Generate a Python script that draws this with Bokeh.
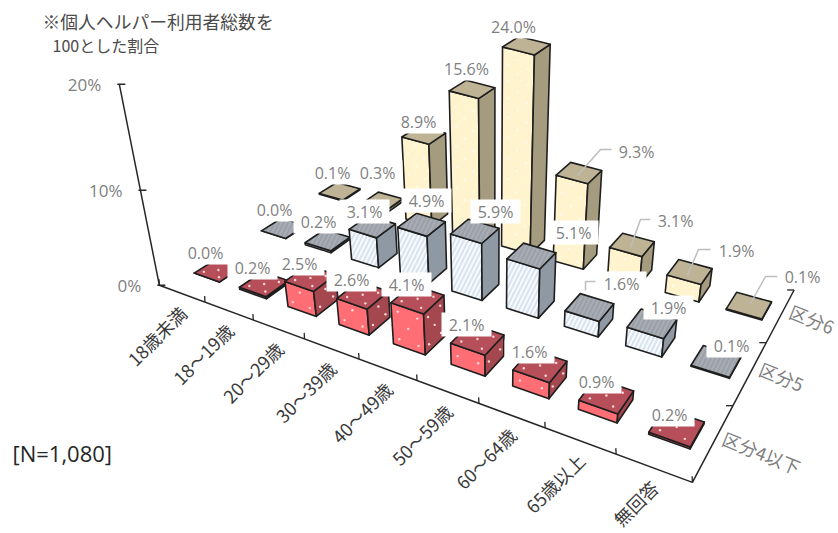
import numpy as np
from bokeh.plotting import figure
from bokeh.models import ColumnDataSource
from bokeh.core.properties import value
from bokeh.embed import file_html
from bokeh.resources import INLINE

categories = ["18歳未満", "18～19歳", "20～29歳", "30～39歳", "40～49歳", "50～59歳", "60～64歳", "65歳以上", "無回答"]
series_names = ["区分4以下", "区分5", "区分6"]
kubun4 = [0.0, 0.2, 2.5, 2.6, 4.1, 2.1, 1.6, 0.9, 0.2]
kubun5 = [0.0, 0.2, 3.1, 4.9, 5.9, 5.1, 1.6, 1.9, 0.1]
kubun6 = [0.1, 0.3, 8.9, 15.6, 24.0, 9.3, 3.1, 1.9, 0.1]
z_ticks = [0, 10, 20]
z_tick_labels = ["0%", "10%", "20%"]
note_lines = ["※個人ヘルパー利用者総数を", "100とした割合"]
n_label = "[N=1,080]"

# ---- camera calibration (image pixels) ----
calib = [(-.5,-.5,160,283),(.5,-.5,205,302),(1.5,-.5,253,320),(2.5,-.5,303,340),(3.5,-.5,358,360),
         (4.5,-.5,417,382),(5.5,-.5,478,405),(6.5,-.5,545,428),(7.5,-.5,615,457),(8.5,-.5,692,480),
         (8.5,.5,732,403),(8.5,1.5,767,338),(8.5,2.5,793,291),
         (0,0,212,273),(0,1,280,229),(0,2,342,191),(8,0,677,430),(8,1,715,363),(8,2,750,302)]
calib = calib + calib[:1]*4 + calib[9:10]*2 + calib[12:13]*2
A, b = [], []
for u, v, x, y in calib:
    A.append([u, v, 1, 0, 0, 0, -u*x, -v*x]); b.append(x)
    A.append([0, 0, 0, u, v, 1, -u*y, -v*y]); b.append(y)
h = np.linalg.lstsq(np.array(A, float), np.array(b, float), rcond=None)[0]
VP = (493.0, 1963.0)

def ground(u, v):
    w = h[6]*u + h[7]*v + 1
    return (h[0]*u + h[1]*v + h[2])/w, (h[3]*u + h[4]*v + h[5])/w

def proj(u, v, z=0.0):
    """Floor point raised by z percent; the rise leans away from the lower vanishing point
    and is foreshortened with depth and with height."""
    gx, gy = ground(u, v)
    s = 10.0 - 0.425*max(v, 0.0)
    e = z*(1 - 0.1*(z/24.0)**4)
    t = e*s/(VP[1]-gy)
    return gx - t*(VP[0]-gx), gy - t*(VP[1]-gy)

def proj_axis(z):
    gx, gy = ground(-.5, -.5)
    t = z/(187.0-z)
    return gx - t*(VP[0]-gx), gy - t*(VP[1]-gy)

BAR_W, BAR_D = 0.56, 0.33
styles = [
    dict(front="#FF6E74", side="#A5474F", top="#B64F59", dot="#FFD9DA"),
    dict(front="#F8FAFD", side="#8F99A4", top="#A8ADB4", hf="#D8E4EF", ht="#9BA0A8"),
    dict(front="#FFF4CE", side="#A59B7F", top="#BEB495", dot="#FFFBEC"),
]
rows = [kubun4, kubun5, kubun6]

p = figure(width=838, height=533, x_range=(0, 838), y_range=(533, 0), output_backend="svg",
           toolbar_location=None, min_border=0, outline_line_color=None)
p.axis.visible = False
p.grid.visible = False
p.background_fill_color = "white"
p.border_fill_color = "white"

AX = "#262626"
zline = [proj_axis(z) for z in [0, 5, 10, 15, 20]]
p.line([q[0] for q in zline], [q[1] for q in zline], line_color=AX, line_width=1.5)
fl = [ground(-.5, -.5), ground(8.5, -.5), ground(8.5, 2.5)]
p.line([q[0] for q in fl], [q[1] for q in fl], line_color=AX, line_width=1.5)
for z, lab in zip(z_ticks, z_tick_labels):
    x, y = proj_axis(z)
    p.segment([x-2], [y], [x+6], [y], line_color=AX, line_width=1.5)
    p.text([x-18], [y], text=[lab], text_align="right", text_baseline="middle", text_color="#7F7F7F",
           text_font=value("Open Sans"), text_font_size="17px")
for i in range(10):
    x, y = ground(i-.5, -.5)
    p.segment([x], [y], [x-0.3], [y-6], line_color=AX, line_width=1.3)
for j in range(3):
    x, y = ground(8.5, j+.5)
    p.segment([x], [y], [x-7], [y], line_color=AX, line_width=1.3)

# bars, far row first, left to right
for j in (2, 1, 0):
    st = styles[j]
    for i, val in enumerate(rows[j]):
        u0, u1 = i-BAR_W/2, i+BAR_W/2
        v0, v1 = j-BAR_D/2, j+BAR_D/2
        a, b_, c = proj(u0, v0), proj(u1, v0), proj(u1, v1)
        at, bt, ct, dt = proj(u0, v0, val), proj(u1, v0, val), proj(u1, v1, val), proj(u0, v1, val)
        faces = [(a, b_, bt, at), (b_, c, ct, bt), (at, bt, ct, dt)]
        xs = [[q[0] for q in f] for f in faces]
        ys = [[q[1] for q in f] for f in faces]
        fc = [st["front"], st["side"], st["top"]]
        if j == 1:
            src = ColumnDataSource(dict(xs=xs, ys=ys, fc=fc, hc=[st["hf"], st["side"], st["ht"]],
                                        hp=["right_diagonal_line"]*3))
            p.patches("xs", "ys", source=src, fill_color="fc", line_color="#1E1E1E", line_width=1.6,
                      line_join="round", hatch_pattern="hp", hatch_color="hc", hatch_scale=9, hatch_weight=2)
        else:
            src = ColumnDataSource(dict(xs=xs, ys=ys, fc=fc))
            p.patches("xs", "ys", source=src, fill_color="fc", line_color="#1E1E1E", line_width=1.6,
                      line_join="round")
            # sparse specks printed on the faces (the beige row only shows them on its front)
            dx, dy = [], []
            fr = [0.2, 0.5, 0.8]
            n_z = max(int(val/1.1), 0)
            for k in range(n_z):
                zz = (k+.5)*val/n_z
                for m, f in enumerate(fr):
                    if (k+m) % 2 == 0:
                        q = proj(u0+f*BAR_W, v0, zz); dx.append(q[0]); dy.append(q[1])
                        if j == 0:
                            q = proj(u1, v0+f*BAR_D, zz); dx.append(q[0]); dy.append(q[1])
            if j == 0:
                for m, f in enumerate(fr):
                    for n, g in enumerate(fr):
                        if (m+n) % 2 == 0:
                            q = proj(u0+f*BAR_W, v0+g*BAR_D, val); dx.append(q[0]); dy.append(q[1])
            if dx:
                p.scatter(dx, dy, size=2.4, fill_color=st["dot"], line_color=None, marker="circle")

# data labels: layout in image pixels, beige, grey, red drawn in that order
label_xy = {
    2: [(332,172),(377,172),(418,121),(466,68),(513,26),(636,151),(675,220),(736,250),(802,276)],
    1: [(274,209),(318,221),(364,211),(426,200),(495,211),(573,232),(621,283),(668,307),(731,345)],
    0: [(205,252),(252,267),(299,263),(351,279),(406,284),(466,324),(529,351),(596,381),(669,414)],
}
leaders = [([(612,149),(600,149),(577,175)]), ([(650,219),(640,219),(630,247)]), ([(710,249),(698,249),(687,275)]),
           ([(777,276),(765,276),(750,303)]), ([(595,281),(585,281),(585,290)]), ([(375,197),(373,203)])]
for L in leaders:
    p.line([q[0] for q in L], [q[1] for q in L], line_color="#BDBDBD", line_width=1.5)
for j in (2, 1, 0):
    pts = label_xy[j]
    p.quad(left=[q[0]-25 for q in pts], right=[q[0]+25 for q in pts], top=[q[1]-12 for q in pts],
           bottom=[q[1]+12 for q in pts], fill_color="white", line_color=None)
    p.text([q[0] for q in pts], [q[1] for q in pts], text=[f"{v:.1f}%" for v in rows[j]], text_align="center",
           text_baseline="middle", text_color="#7F7F7F", text_font=value("Open Sans"), text_font_size="16px")

# axis labels
for i, c in enumerate(categories):
    x, y = ground(i, -.5)
    p.text([x+1], [y+16], text=[c], angle=np.deg2rad(45), text_align="right", text_baseline="middle", text_color="#3A3A3A",
           text_font=value("Noto Sans CJK JP"), text_font_size="18px")
for j, s in enumerate(series_names):
    x, y = ground(8.5, j)
    p.text([x+10], [y-5], text=[s], angle=np.deg2rad(-22), text_align="left", text_baseline="middle", text_color="#7F7F7F",
           text_font=value("Noto Sans CJK JP"), text_font_size="18px")
p.text([42], [20], text=[note_lines[0]], text_baseline="middle", text_color="#4A4A4A", text_font=value("Noto Sans CJK JP"), text_font_size="17.8px")
p.text([52], [44], text=[note_lines[1]], text_baseline="middle", text_color="#4A4A4A", text_font=value("Noto Sans CJK JP"), text_font_size="16px")
p.text([12], [452], text=[n_label], text_baseline="middle", text_color="#262626", text_font=value("Open Sans"), text_font_size="22px")

open("out.html", "w").write(file_html(p, INLINE))
